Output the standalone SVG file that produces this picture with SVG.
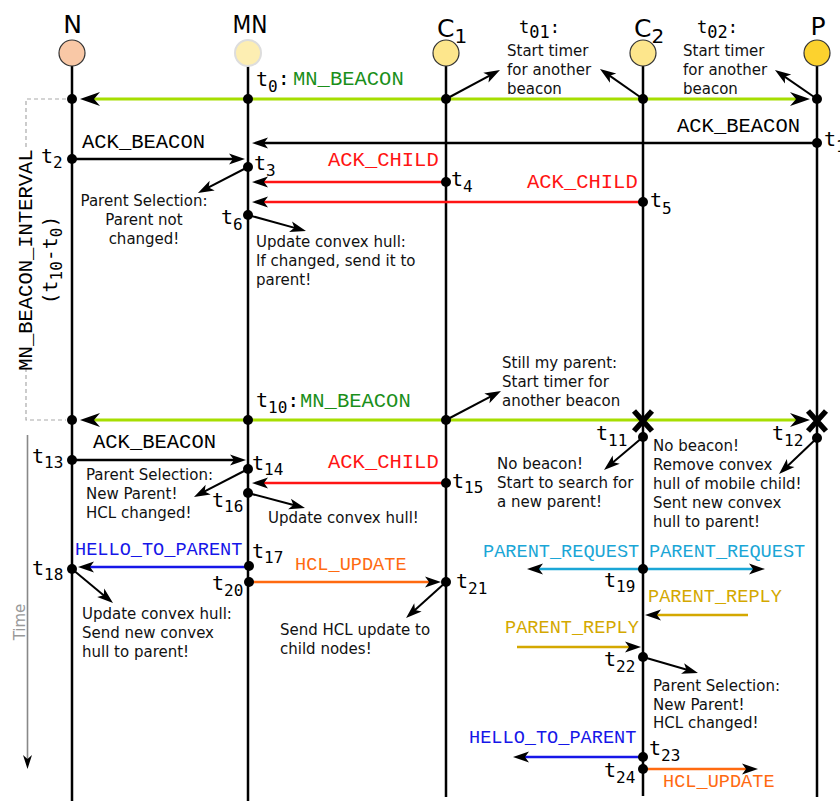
<svg xmlns="http://www.w3.org/2000/svg" width="840" height="801" viewBox="0 0 840 801">
  <style>
    .life{stroke:#000;stroke-width:2.5;fill:none}
    .head{font-family:"DejaVu Sans",sans-serif;font-size:25px;fill:#000}
    .hsub{font-size:20px}
    .dot{fill:#000}
    .msg{font-family:"Liberation Mono",monospace;font-size:20.5px}
    .msg2{font-family:"Liberation Mono",monospace;font-size:18.6px}
    .t{font-family:"DejaVu Sans Mono",monospace;font-size:20px;fill:#000}
    .s{font-size:16px}
    .t2{font-family:"DejaVu Sans Mono",monospace;font-size:17px;fill:#000}
    .note{font-family:"DejaVu Sans",sans-serif;font-size:15px;fill:#111}
    .ln{fill:none;stroke-width:2.5;marker-end:url(#ah)}
    .k{stroke:#000}
    .kn{stroke:#000;stroke-width:2;fill:none;marker-end:url(#ah)}
    .g{stroke:#a6de00;stroke-width:3.2;marker-end:url(#ah-big)}
    .r{stroke:#ff1414}
    .b{stroke:#1616e8}
    .o{stroke:#ff6a10}
    .c{stroke:#1ba6d6}
    .y{stroke:#d4a800}
  </style>
  <defs>
    <!-- all arrowheads are black darts; tip sits 6px past the end of the line -->
    <marker id="ah" viewBox="-12 -7 20 14" refX="0" refY="0" markerWidth="20" markerHeight="14" markerUnits="userSpaceOnUse" orient="auto" overflow="visible"><path d="M6,0 L-10,-5.5 L-6,0 L-10,5.5 Z" fill="#000"/></marker>
    <marker id="ah-big" viewBox="-16 -8 24 16" refX="0" refY="0" markerWidth="24" markerHeight="16" markerUnits="userSpaceOnUse" orient="auto" overflow="visible"><path d="M6,0 L-14,-7 L-8,0 L-14,7 Z" fill="#000"/></marker>
    <marker id="ah-gray" viewBox="-12 -7 20 14" refX="0" refY="0" markerWidth="20" markerHeight="14" markerUnits="userSpaceOnUse" orient="auto" overflow="visible"><path d="M5,0 L-9,-4.5 L-5,0 L-9,4.5 Z" fill="#000"/></marker>
  </defs>

  <rect width="840" height="801" fill="#fff"/>

  <!-- beacon interval bracket and time axis -->
  <g id="interval">
    <path d="M66,99 H26 V148 M26,368 V420 H66" fill="none" stroke="#aaa" stroke-width="1.2" stroke-dasharray="4,3"/>
    <text class="msg" font-size="20" transform="translate(32,260) rotate(-90)" text-anchor="middle">MN_BEACON_INTERVAL</text>
    <text class="t" transform="translate(57,260) rotate(-90)" text-anchor="middle">(t<tspan class="s" dy="5">10</tspan><tspan dy="-5">-t</tspan><tspan class="s" dy="5">0</tspan><tspan dy="-5">)</tspan></text>
  </g>
  <g id="time-axis">
    <path d="M27.5,435 V764" fill="none" stroke="#888" stroke-width="1.6" marker-end="url(#ah-gray)"/>
    <text transform="translate(25,622) rotate(-90)" text-anchor="middle" font-family="DejaVu Sans, sans-serif" font-size="15" fill="#999">Time</text>
  </g>

  <!-- lifelines -->
  <g id="node-N">
    <text class="head" x="72.5" y="33" text-anchor="middle">N</text>
    <line class="life" x1="72" y1="66" x2="72" y2="801"/>
    <circle cx="72" cy="53" r="13" fill="#f9c8a6" stroke="#333" stroke-width="1.2"/>
  </g>
  <g id="node-MN">
    <text class="head" x="250" y="33" text-anchor="middle" textLength="35" lengthAdjust="spacingAndGlyphs">MN</text>
    <line class="life" x1="248" y1="66" x2="248" y2="801"/>
    <circle cx="248" cy="53" r="13" fill="#fdeeb2" stroke="#ddd" stroke-width="2"/>
  </g>
  <g id="node-C1">
    <text class="head" x="437" y="37" font-size="23">C<tspan class="hsub" dy="6">1</tspan></text>
    <line class="life" x1="446" y1="66" x2="446" y2="797"/>
    <circle cx="446" cy="53" r="13" fill="#fde68c" stroke="#333" stroke-width="1.2"/>
  </g>
  <g id="node-C2">
    <text class="head" x="634" y="37" font-size="23">C<tspan class="hsub" dy="6">2</tspan></text>
    <line class="life" x1="643" y1="66" x2="643" y2="796"/>
    <circle cx="643" cy="53" r="13" fill="#fde68c" stroke="#333" stroke-width="1.2"/>
  </g>
  <g id="node-P">
    <text class="head" x="818" y="35" text-anchor="middle">P</text>
    <line class="life" x1="817" y1="66" x2="817" y2="797"/>
    <circle cx="817" cy="53" r="13" fill="#fcd22e" stroke="#333" stroke-width="1.2"/>
  </g>

  <!-- messages and note arrows -->
  <g id="connectors">
    <path class="ln g" d="M248,99 H86"/>
    <path class="ln g" d="M248,99 H804"/>
    <path class="ln k" d="M817,143 H258"/>
    <path class="ln k" d="M72,159 H239"/>
    <path class="ln r" d="M446,182 H258"/>
    <path class="ln r" d="M643,202 H258"/>
    <path class="ln g" d="M248,420 H86"/>
    <path class="ln g" d="M248,420 H804"/>
    <path class="ln k" d="M72,460 H240"/>
    <path class="ln r" d="M446,483 H258"/>
    <path class="ln b" d="M248,567 H84"/>
    <path class="ln o" d="M248,582 H435"/>
    <path class="ln c" d="M643,569 H533"/>
    <path class="ln c" d="M643,569 H759"/>
    <path class="ln y" d="M748,615 H651"/>
    <path class="ln y" d="M517,647 H635"/>
    <path class="ln b" d="M643,757 H519"/>
    <path class="ln o" d="M643,769 H752"/>

    <path class="kn" d="M446,99 L494.7,72.8"/>
    <path class="kn" d="M643,99 L604.9,72.4"/>
    <path class="kn" d="M817,99 L779.9,73.4"/>
    <path class="kn" d="M248,167 L203.3,190.2"/>
    <path class="kn" d="M248,215 L300.2,229.4"/>
    <path class="kn" d="M446,420 L495.7,393.8"/>
    <path class="kn" d="M643,437 L608.6,466.1"/>
    <path class="kn" d="M817,438 L783.4,469.9"/>
    <path class="kn" d="M248,469 L199.3,494.2"/>
    <path class="kn" d="M248,493 L299.2,506.5"/>
    <path class="kn" d="M72,569 L108.4,599.2"/>
    <path class="kn" d="M446,582 L410.5,614"/>
    <path class="kn" d="M643,657 L692.2,671.3"/>

    <path d="M634,411 L652,431 M652,411 L634,431 M808,411 L826,431 M826,411 L808,431" fill="none" stroke="#000" stroke-width="5.5"/>
  </g>

  <!-- event points -->
  <g id="events" class="dot">
    <circle cx="72" cy="99" r="5"/><circle cx="72" cy="159" r="5"/><circle cx="72" cy="420" r="5"/><circle cx="72" cy="460" r="5"/><circle cx="72" cy="569" r="5"/>
    <circle cx="248" cy="99" r="5"/><circle cx="248" cy="167" r="5"/><circle cx="248" cy="215" r="5"/><circle cx="248" cy="420" r="5"/><circle cx="248" cy="469" r="5"/><circle cx="248" cy="493" r="5"/><circle cx="249" cy="566" r="5"/><circle cx="249" cy="582" r="5"/>
    <circle cx="446" cy="99" r="5"/><circle cx="446" cy="182" r="5"/><circle cx="446" cy="420" r="5"/><circle cx="446" cy="483" r="5"/><circle cx="446" cy="582" r="5"/>
    <circle cx="643" cy="99" r="5"/><circle cx="643" cy="202" r="5"/><circle cx="643" cy="437" r="5"/><circle cx="643" cy="569" r="5"/><circle cx="643" cy="657" r="5"/><circle cx="643" cy="757" r="5"/><circle cx="643" cy="769" r="5"/>
    <circle cx="817" cy="99" r="5"/><circle cx="817" cy="143" r="5"/><circle cx="817" cy="438" r="5"/>
  </g>

  <!-- message labels -->
  <g id="message-labels">
    <text class="msg" x="293" y="85" fill="#1a8f1a">MN_BEACON</text>
    <text class="msg" x="677" y="132">ACK_BEACON</text>
    <text class="msg" x="82" y="148">ACK_BEACON</text>
    <text class="msg" x="328" y="166" fill="#ff1414">ACK_CHILD</text>
    <text class="msg" x="527" y="188" fill="#ff1414">ACK_CHILD</text>
    <text class="msg" x="300" y="407" fill="#1a8f1a">MN_BEACON</text>
    <text class="msg" x="93" y="448">ACK_BEACON</text>
    <text class="msg" x="328" y="468" fill="#ff1414">ACK_CHILD</text>
    <text class="msg2" x="75" y="555" fill="#1616e8">HELLO_TO_PARENT</text>
    <text class="msg2" x="295" y="570" fill="#ff6a10">HCL_UPDATE</text>
    <text class="msg2" x="483" y="557" fill="#1ba6d6">PARENT_REQUEST</text>
    <text class="msg2" x="649" y="557" fill="#1ba6d6">PARENT_REQUEST</text>
    <text class="msg2" x="648" y="602" fill="#d4a800">PARENT_REPLY</text>
    <text class="msg2" x="505" y="633" fill="#d4a800">PARENT_REPLY</text>
    <text class="msg2" x="469" y="743" fill="#1616e8">HELLO_TO_PARENT</text>
    <text class="msg2" x="663" y="787" fill="#ff6a10">HCL_UPDATE</text>
  </g>

  <!-- time stamps -->
  <g id="timestamps">
    <text class="t" x="256" y="86">t<tspan class="s" dy="6">0</tspan><tspan dy="-7">:</tspan></text>
    <text class="t" x="256" y="407">t<tspan class="s" dy="6">10</tspan><tspan dy="-6">:</tspan></text>
    <text class="t2" x="519" y="33">t<tspan dy="5">01</tspan><tspan dy="-5">:</tspan></text>
    <text class="t2" x="697" y="33">t<tspan dy="5">02</tspan><tspan dy="-5">:</tspan></text>
    <text class="t" x="824" y="146">t<tspan class="s" dy="6">1</tspan></text>
    <text class="t" x="41" y="163">t<tspan class="s" dy="5">2</tspan></text>
    <text class="t" x="254" y="170">t<tspan class="s" dy="6">3</tspan></text>
    <text class="t" x="451" y="186">t<tspan class="s" dy="6">4</tspan></text>
    <text class="t" x="650" y="207">t<tspan class="s" dy="7">5</tspan></text>
    <text class="t" x="221" y="224">t<tspan class="s" dy="6">6</tspan></text>
    <text class="t" x="596" y="440">t<tspan class="s" dy="6">11</tspan></text>
    <text class="t" x="772" y="440">t<tspan class="s" dy="6">12</tspan></text>
    <text class="t" x="32" y="463">t<tspan class="s" dy="5">13</tspan></text>
    <text class="t" x="252" y="470">t<tspan class="s" dy="5">14</tspan></text>
    <text class="t" x="452" y="488">t<tspan class="s" dy="5">15</tspan></text>
    <text class="t" x="212" y="507">t<tspan class="s" dy="5">16</tspan></text>
    <text class="t" x="252" y="558">t<tspan class="s" dy="5">17</tspan></text>
    <text class="t" x="32" y="575">t<tspan class="s" dy="5">18</tspan></text>
    <text class="t" x="604" y="587">t<tspan class="s" dy="5">19</tspan></text>
    <text class="t" x="212" y="590">t<tspan class="s" dy="6">20</tspan></text>
    <text class="t" x="456" y="588">t<tspan class="s" dy="6">21</tspan></text>
    <text class="t" x="604" y="666">t<tspan class="s" dy="6">22</tspan></text>
    <text class="t" x="649" y="755">t<tspan class="s" dy="6">23</tspan></text>
    <text class="t" x="604" y="777">t<tspan class="s" dy="6">24</tspan></text>
  </g>

  <!-- notes -->
  <g id="notes" class="note">
    <text x="507" y="56">Start timer</text><text x="507" y="75">for another</text><text x="507" y="94">beacon</text>
    <text x="683" y="56">Start timer</text><text x="683" y="75">for another</text><text x="683" y="94">beacon</text>
    <text text-anchor="middle" x="144" y="206">Parent Selection:</text><text text-anchor="middle" x="144" y="225">Parent not</text><text text-anchor="middle" x="144" y="244">changed!</text>
    <text x="256" y="247">Update convex hull:</text><text x="256" y="266">If changed, send it to</text><text x="256" y="285">parent!</text>
    <text x="502" y="368">Still my parent:</text><text x="502" y="387">Start timer for</text><text x="502" y="406">another beacon</text>
    <text x="497" y="469">No beacon!</text><text x="497" y="488">Start to search for</text><text x="497" y="507">a new parent!</text>
    <text x="653" y="451">No beacon!</text><text x="653" y="470">Remove convex</text><text x="653" y="489">hull of mobile child!</text><text x="653" y="508">Sent new convex</text><text x="653" y="527">hull to parent!</text>
    <text x="86" y="480">Parent Selection:</text><text x="86" y="499">New Parent!</text><text x="86" y="518">HCL changed!</text>
    <text x="268" y="523">Update convex hull!</text>
    <text x="82" y="619">Update convex hull:</text><text x="82" y="638">Send new convex</text><text x="82" y="657">hull to parent!</text>
    <text x="280" y="635">Send HCL update to</text><text x="280" y="654">child nodes!</text>
    <text x="653" y="691">Parent Selection:</text><text x="653" y="710">New Parent!</text><text x="653" y="728">HCL changed!</text>
  </g>
</svg>
